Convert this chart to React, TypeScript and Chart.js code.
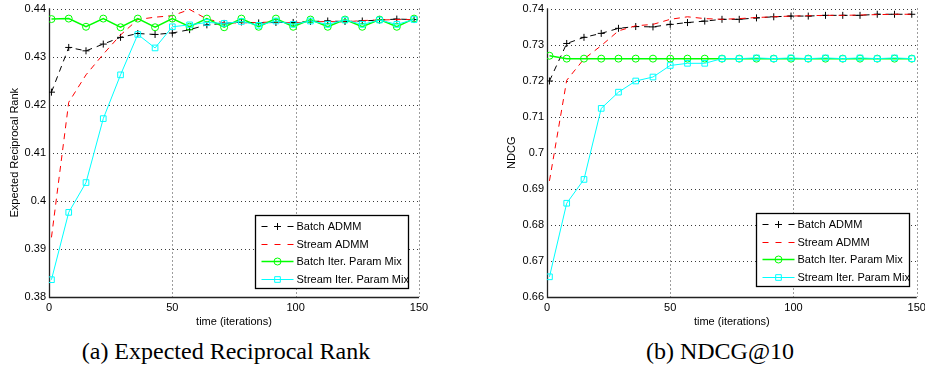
import React, { useEffect, useRef } from 'react';
import { Chart, registerables } from 'chart.js';

Chart.register(...registerables);

// ---------------- data ----------------
const iterations = [1, 8, 15, 22, 29, 36, 43, 50, 57, 64, 71, 78, 85, 92, 99, 106, 113, 120, 127, 134, 141, 148];
const xTickValues = [0, 50, 100, 150];
const errTickValues = [0.38, 0.39, 0.4, 0.41, 0.42, 0.43, 0.44];
const ndcgTickValues = [0.66, 0.67, 0.68, 0.69, 0.7, 0.71, 0.72, 0.73, 0.74];

const seriesLabels = ['Batch ADMM', 'Stream ADMM', 'Batch Iter. Param Mix', 'Stream Iter. Param Mix'];
const xAxisTitle = 'time (iterations)';
const errAxisTitle = 'Expected Reciprocal Rank';
const ndcgAxisTitle = 'NDCG';
const captionA = '(a) Expected Reciprocal Rank';
const captionB = '(b) NDCG@10';

// (a) Expected Reciprocal Rank
const errBatchAdmm = [0.4226, 0.4319, 0.4312, 0.4326, 0.434, 0.4348, 0.4346, 0.4349, 0.4356, 0.4366, 0.4369, 0.4372, 0.437, 0.4371, 0.4371, 0.4373, 0.4374, 0.4373, 0.4374, 0.4376, 0.4378, 0.4377];
const errStreamAdmm = [0.3924, 0.4205, 0.4262, 0.4305, 0.4345, 0.4377, 0.4382, 0.4385, 0.4398, 0.4378, 0.437, 0.437, 0.4371, 0.4372, 0.437, 0.4372, 0.4373, 0.4372, 0.4375, 0.4376, 0.4377, 0.4377];
const errBatchMix = [0.4378, 0.4379, 0.4362, 0.4379, 0.4361, 0.4379, 0.4361, 0.4379, 0.4362, 0.4379, 0.4361, 0.4379, 0.4362, 0.4379, 0.4362, 0.4377, 0.4362, 0.4377, 0.4362, 0.4377, 0.4362, 0.4379];
const errStreamMix = [0.3836, 0.3976, 0.4038, 0.4171, 0.4262, 0.4346, 0.4318, 0.4362, 0.4366, 0.4371, 0.4369, 0.4373, 0.4365, 0.4374, 0.4367, 0.4374, 0.4367, 0.4376, 0.4367, 0.4376, 0.4367, 0.4377];

// (b) NDCG@10
const ndcgBatchAdmm = [0.7199, 0.7303, 0.732, 0.7331, 0.7345, 0.735, 0.7349, 0.7356, 0.7361, 0.7365, 0.737, 0.737, 0.7374, 0.7377, 0.7379, 0.7379, 0.7381, 0.7381, 0.7381, 0.7384, 0.7384, 0.7384];
const ndcgStreamAdmm = [0.6922, 0.7201, 0.726, 0.7297, 0.7338, 0.7352, 0.7356, 0.737, 0.7377, 0.7372, 0.737, 0.7372, 0.7375, 0.7377, 0.7379, 0.738, 0.7381, 0.7381, 0.7382, 0.7383, 0.7384, 0.7384];
const ndcgBatchMix = [0.7269, 0.7261, 0.7261, 0.7261, 0.7261, 0.7261, 0.7261, 0.7261, 0.7261, 0.7261, 0.7261, 0.7261, 0.7261, 0.7261, 0.7261, 0.7261, 0.7261, 0.7261, 0.7261, 0.7261, 0.7261, 0.7261];
const ndcgStreamMix = [0.6656, 0.686, 0.6926, 0.7123, 0.7168, 0.7199, 0.721, 0.7242, 0.7248, 0.7248, 0.7261, 0.7261, 0.7263, 0.7261, 0.7263, 0.7261, 0.7263, 0.7261, 0.7263, 0.7261, 0.7263, 0.7261];

// ---------------- styles ----------------
const FONT = "'Liberation Sans', Arial, Helvetica, sans-serif";
const SERIF = "'Liberation Serif', 'Times New Roman', Times, serif";

const seriesStyles = [
  { color: '#000000', dash: [6, 5], point: 'cross', radius: 3.5, width: 1 },
  { color: '#ff0000', dash: [6, 5], point: 'none', radius: 0, width: 1 },
  { color: '#00ff00', dash: [], point: 'circle', radius: 3.5, width: 1.5 },
  { color: '#00ffff', dash: [], point: 'rect', radius: 4, width: 1 },
];

function drawMarker(ctx: CanvasRenderingContext2D, style: string, x: number, y: number, r: number) {
  ctx.beginPath();
  if (style === 'cross') {
    ctx.moveTo(x - r, y);
    ctx.lineTo(x + r, y);
    ctx.moveTo(x, y - r);
    ctx.lineTo(x, y + r);
  } else if (style === 'circle') {
    ctx.arc(x, y, r, 0, Math.PI * 2);
  } else if (style === 'rect') {
    const s = r * Math.SQRT1_2;
    ctx.rect(x - s, y - s, 2 * s, 2 * s);
  } else {
    return;
  }
  ctx.stroke();
}

const matlabPlugin = {
  id: 'matlab',
  beforeDatasetsDraw(chart: any) {
    const { ctx, chartArea: a, scales } = chart;
    const xs = scales.x;
    const ys = scales.y;
    ctx.save();
    // dotted grid
    ctx.strokeStyle = '#3a3a3a';
    ctx.lineWidth = 1;
    ctx.setLineDash([1, 3]);
    for (const t of xs.ticks) {
      const px = Math.round(xs.getPixelForValue(t.value)) + 0.5;
      ctx.beginPath();
      ctx.moveTo(px, a.top);
      ctx.lineTo(px, a.bottom);
      ctx.stroke();
    }
    for (const t of ys.ticks) {
      const py = Math.round(ys.getPixelForValue(t.value)) + 0.5;
      ctx.beginPath();
      ctx.moveTo(a.left, py);
      ctx.lineTo(a.right, py);
      ctx.stroke();
    }
    // solid axes (left, bottom)
    ctx.setLineDash([]);
    ctx.strokeStyle = '#222';
    ctx.lineWidth = 1.3;
    const lx = Math.round(a.left) + 0.5;
    const by = Math.round(a.bottom) + 0.5;
    ctx.beginPath();
    ctx.moveTo(lx, a.top);
    ctx.lineTo(lx, by);
    ctx.lineTo(a.right, by);
    ctx.stroke();
    ctx.restore();
  },
  afterDatasetsDraw(chart: any) {
    const { ctx, chartArea: a } = chart;
    const o = chart.options.plugins.matlab;
    const w = 153;
    const h = 73;
    const rowH = 17.7;
    const x0 = Math.round(a.right - o.legendRight - w) + 0.5;
    const y0 = Math.round(a.bottom - o.legendBottom - h) + 0.5;
    ctx.save();
    ctx.fillStyle = '#ffffff';
    ctx.fillRect(x0, y0, w, h);
    ctx.strokeStyle = '#000';
    ctx.lineWidth = 1.3;
    ctx.setLineDash([]);
    ctx.strokeRect(x0, y0, w, h);
    chart.data.datasets.forEach((ds: any, i: number) => {
      const st = seriesStyles[i];
      const cy = Math.round(y0 + 10.5 + i * rowH) + 0.5;
      const lx1 = x0 + 6;
      const lx2 = x0 + 38;
      ctx.strokeStyle = st.color;
      ctx.lineWidth = st.width;
      ctx.setLineDash(st.dash.length ? [6, 7] : []);
      ctx.beginPath();
      ctx.moveTo(lx1, cy);
      ctx.lineTo(lx2, cy);
      ctx.stroke();
      ctx.setLineDash([]);
      ctx.lineWidth = 1;
      drawMarker(ctx, st.point, (lx1 + lx2) / 2, cy, st.radius);
      ctx.fillStyle = '#000';
      ctx.font = `11px ${FONT}`;
      ctx.textBaseline = 'middle';
      ctx.textAlign = 'left';
      ctx.fillText(ds.label, x0 + 41, cy);
    });
    ctx.restore();
  },
};

type PanelCfg = {
  series: number[][];
  yTicks: number[];
  yTitle: string;
  yAxisWidth: number;
  yTitlePad: number;
  padRight: number;
  legendRight: number;
  legendBottom: number;
};

function makeConfig(p: PanelCfg): any {
  const datasets = p.series.map((vals, i) => {
    const st = seriesStyles[i];
    return {
      label: seriesLabels[i],
      data: iterations.map((x, k) => ({ x, y: vals[k] })),
      borderColor: st.color,
      backgroundColor: 'rgba(0,0,0,0)',
      borderWidth: st.width,
      borderDash: st.dash,
      pointStyle: st.point === 'none' ? false : st.point,
      pointRadius: st.radius,
      pointBorderColor: st.color,
      pointBackgroundColor: 'rgba(0,0,0,0)',
      pointBorderWidth: 1,
      tension: 0,
      fill: false,
      order: 4 - i,
    };
  });
  const yMin = p.yTicks[0];
  const yMax = p.yTicks[p.yTicks.length - 1];
  return {
    type: 'line',
    data: { datasets },
    plugins: [matlabPlugin],
    options: {
      animation: false,
      responsive: false,
      devicePixelRatio: 1,
      layout: { padding: { left: 0, right: p.padRight, top: 6, bottom: 0 } },
      plugins: {
        legend: { display: false },
        tooltip: { enabled: false },
        matlab: { legendRight: p.legendRight, legendBottom: p.legendBottom },
      },
      scales: {
        x: {
          type: 'linear',
          min: xTickValues[0],
          max: xTickValues[xTickValues.length - 1],
          afterBuildTicks: (s: any) => {
            s.ticks = xTickValues.map((v) => ({ value: v }));
          },
          afterFit: (s: any) => {
            s.height = 32;
          },
          grid: { display: false, drawTicks: false },
          border: { display: false },
          ticks: {
            autoSkip: false,
            maxRotation: 0,
            padding: 5,
            color: '#000',
            font: { family: FONT, size: 11, lineHeight: 1 },
            callback: (v: any) => String(v),
          },
          title: {
            display: true,
            text: xAxisTitle,
            color: '#000',
            font: { family: FONT, size: 11, lineHeight: 1.2 },
            padding: { top: 0, bottom: 0 },
          },
        },
        y: {
          type: 'linear',
          min: yMin,
          max: yMax,
          afterBuildTicks: (s: any) => {
            s.ticks = p.yTicks.map((v) => ({ value: v }));
          },
          afterFit: (s: any) => {
            s.width = p.yAxisWidth;
          },
          grid: { display: false, drawTicks: false },
          border: { display: false },
          ticks: {
            autoSkip: false,
            padding: 3,
            color: '#000',
            font: { family: FONT, size: 11, lineHeight: 1 },
            callback: (v: any) => String(Number(Number(v).toFixed(2))),
          },
          title: {
            display: true,
            text: p.yTitle,
            color: '#000',
            font: { family: FONT, size: 11, lineHeight: 1.2 },
            padding: { top: p.yTitlePad, bottom: 0 },
          },
        },
      },
    },
  };
}

export default function App() {
  const leftRef = useRef<HTMLCanvasElement | null>(null);
  const rightRef = useRef<HTMLCanvasElement | null>(null);

  useEffect(() => {
    const left = new Chart(
      leftRef.current as HTMLCanvasElement,
      makeConfig({
        series: [errBatchAdmm, errStreamAdmm, errBatchMix, errStreamMix],
        yTicks: errTickValues,
        yTitle: errAxisTitle,
        yAxisWidth: 49,
        yTitlePad: 8.4,
        padRight: 43,
        legendRight: 11,
        legendBottom: 9,
      })
    );
    const right = new Chart(
      rightRef.current as HTMLCanvasElement,
      makeConfig({
        series: [ndcgBatchAdmm, ndcgStreamAdmm, ndcgBatchMix, ndcgStreamMix],
        yTicks: ndcgTickValues,
        yTitle: ndcgAxisTitle,
        yAxisWidth: 85,
        yTitlePad: 42.9,
        padRight: 25.3,
        legendRight: 8,
        legendBottom: 11,
      })
    );
    return () => {
      left.destroy();
      right.destroy();
    };
  }, []);

  const captionStyle: React.CSSProperties = {
    position: 'absolute',
    top: 339,
    textAlign: 'center',
    fontFamily: SERIF,
    fontSize: 24,
    lineHeight: '24px',
    color: '#000',
    whiteSpace: 'nowrap',
  };

  return (
    <div
      style={{
        position: 'absolute',
        left: 0,
        top: 0,
        width: 925,
        height: 379,
        overflow: 'hidden',
        background: '#ffffff',
      }}
    >
      <canvas
        ref={leftRef}
        width={462}
        height={329}
        style={{ position: 'absolute', left: 0, top: 0, width: 462, height: 329, display: 'block' }}
      />
      <canvas
        ref={rightRef}
        width={480}
        height={329}
        style={{ position: 'absolute', left: 462, top: 0, width: 480, height: 329, display: 'block' }}
      />
      <div style={{ ...captionStyle, left: 0, width: 452 }}>{captionA}</div>
      <div style={{ ...captionStyle, left: 520, width: 400 }}>{captionB}</div>
    </div>
  );
}
